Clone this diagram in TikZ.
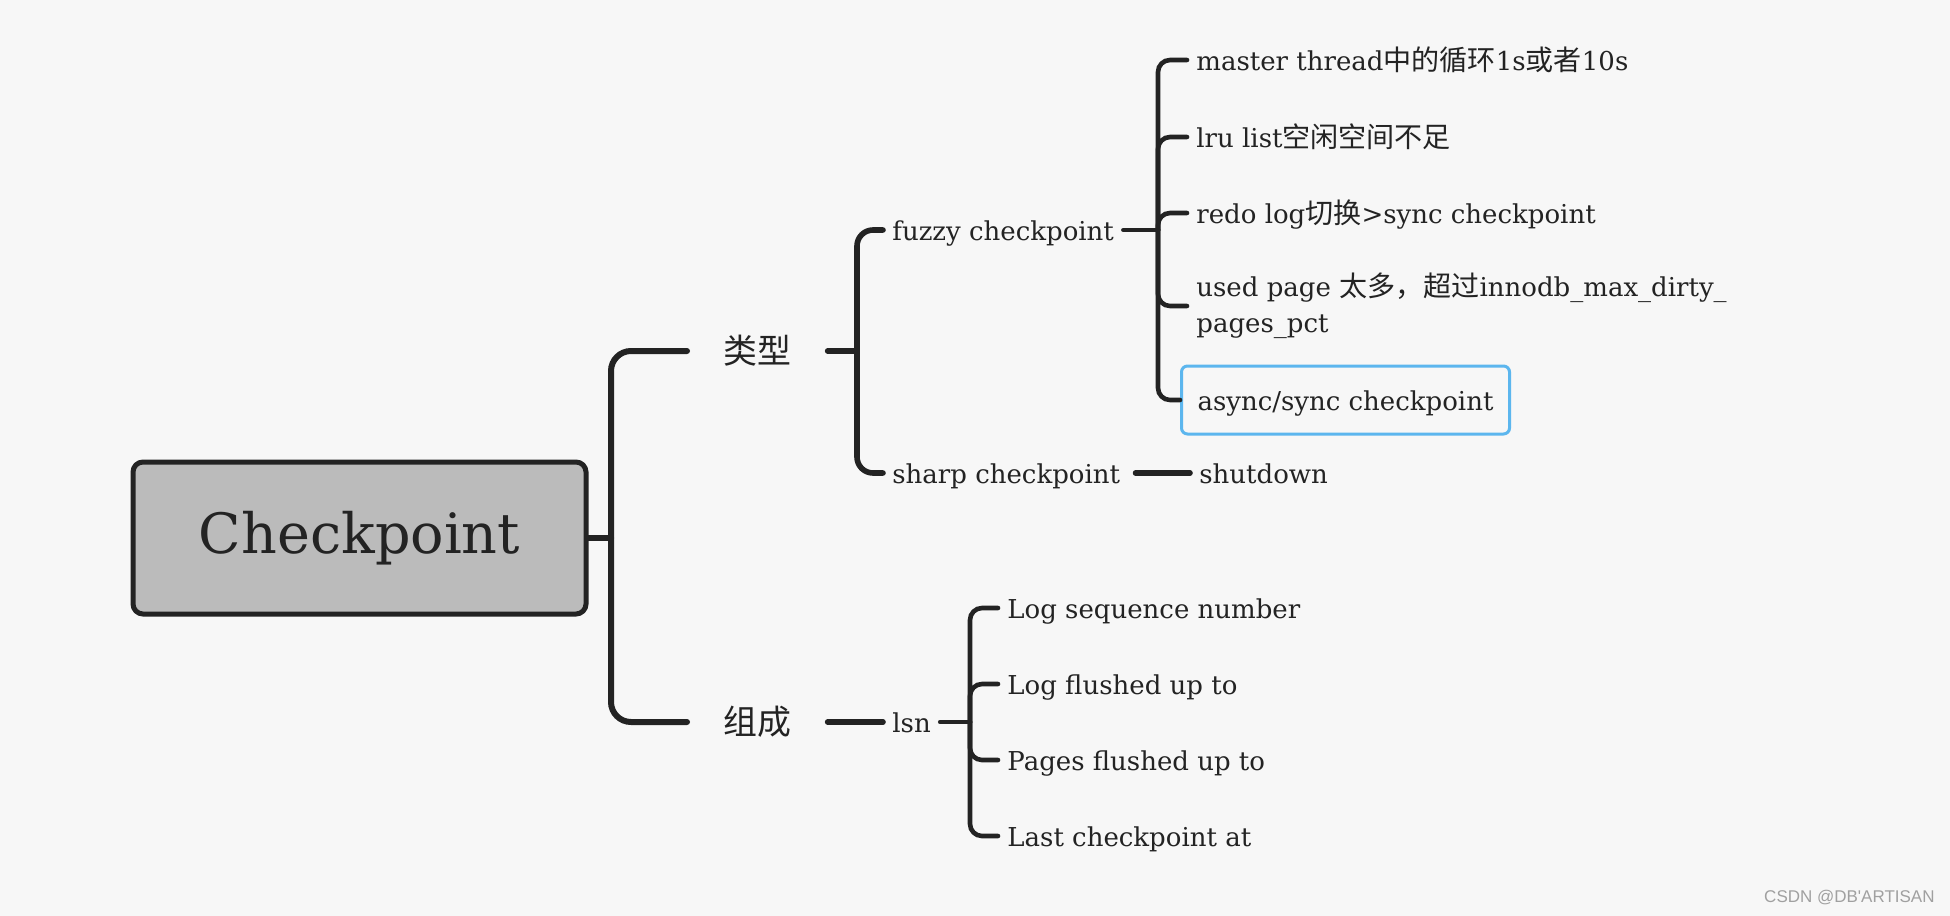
\documentclass[tikz,border=0pt]{standalone}
\usepackage{fontspec}
\setmainfont{DejaVu Serif}
\newfontfamily\cjk[Scale=1.08]{Noto Sans CJK SC}
\newfontfamily\wmfont{Liberation Sans}
\definecolor{bgc}{HTML}{F7F7F7}
\definecolor{ink}{HTML}{232323}
\definecolor{rootfill}{HTML}{BBBBBB}
\definecolor{selblue}{HTML}{5CB6EE}
\definecolor{wmgray}{HTML}{A0A0A0}
\begin{document}
\begin{tikzpicture}[x=0.5pt,y=-0.5pt,
  rootbox/.style={draw=ink, fill=rootfill, line width=2.5pt, rounded corners=5pt, minimum width=226.5pt, minimum height=76pt, text=ink, font=\fontsize{27.8}{34}\selectfont, inner sep=0pt},
  headnode/.style={anchor=west, text=ink, font=\fontsize{15.7}{19}\selectfont\cjk, inner xsep=18pt, inner ysep=3pt},
  leafbase/.style={anchor=west, text=ink, font=\fontsize{13}{18}\selectfont, inner xsep=4.5pt, inner ysep=3pt},
  leafnode/.style={leafbase, text height=13pt, text depth=2.6pt},
  selnode/.style={leafnode, draw=selblue, line width=1.5pt, rounded corners=3pt, inner xsep=8pt, minimum height=34pt},
  brA/.style={draw=ink, line width=3pt, line cap=round, rounded corners=10pt},
  brB/.style={draw=ink, line width=2.8pt, line cap=round, rounded corners=8pt},
  brC/.style={draw=ink, line width=2.3pt, line cap=round, rounded corners=6pt},
]
\fill[bgc] (0,0) rectangle (1950,916);
\useasboundingbox (0,0) rectangle (1950,916);

\node[rootbox] (root) at (359.5,538) {Checkpoint};
\coordinate (j0) at (611,538);
\node[headnode] (type) at (687,351) {类型};
\node[headnode] (comp) at (687,722) {组成};
\coordinate (j1) at (857,351);
\node[leafnode] (fuzzy) at (883,230) {fuzzy checkpoint};
\node[leafnode] (sharp) at (883,473) {sharp checkpoint};
\node[leafnode] (shutdown) at (1190,473) {shutdown};
\coordinate (j2) at (1158,230);
\node[leafnode] (f1) at (1187,60) {master thread{\cjk 中的循环}1s{\cjk 或者}10s};
\node[leafnode] (f2) at (1187,137) {lru list{\cjk 空闲空间不足}};
\node[leafnode] (f3) at (1187,213) {redo log{\cjk 切换}>sync checkpoint};
\node[leafbase, align=left] (f4) at (1187,306) {used page {\cjk 太多，超过}innodb\_max\_dirty\_\\pages\_pct};
\node[selnode] (f5) at (1180,400) {async/sync checkpoint};
\node[leafnode] (lsn) at (883,722) {lsn};
\coordinate (j3) at (970,722);
\node[leafnode] (l1) at (998,608) {Log sequence number};
\node[leafnode] (l2) at (998,684) {Log flushed up to};
\node[leafnode] (l3) at (998,760) {Pages flushed up to};
\node[leafnode] (l4) at (998,836) {Last checkpoint at};

\draw[brA] (root.east) -- (j0);
\draw[brA] (j0) |- (type.west);
\draw[brA] (j0) |- (comp.west);
\draw[brB] (type.east) -- (j1);
\draw[brB] (j1) |- (fuzzy.west);
\draw[brB] (j1) |- (sharp.west);
\draw[brB] ([xshift=3pt]sharp.east) -- (shutdown.west);
\draw[brC] (fuzzy.east) -- (j2);
\foreach \n in {f1,f2,f3,f4,f5} \draw[brC] (j2) |- (\n.west);
\draw[brB] (comp.east) -- (lsn.west);
\draw[brC] (lsn.east) -- (j3);
\foreach \n in {l1,l2,l3,l4} \draw[brC] (j3) |- (\n.west);

\node[anchor=east, text=wmgray, font=\wmfont\fontsize{8.5}{10}\selectfont, inner sep=0pt] (wm) at (1935,898) {CSDN @DB\textquotesingle ARTISAN};
\end{tikzpicture}
\end{document}
